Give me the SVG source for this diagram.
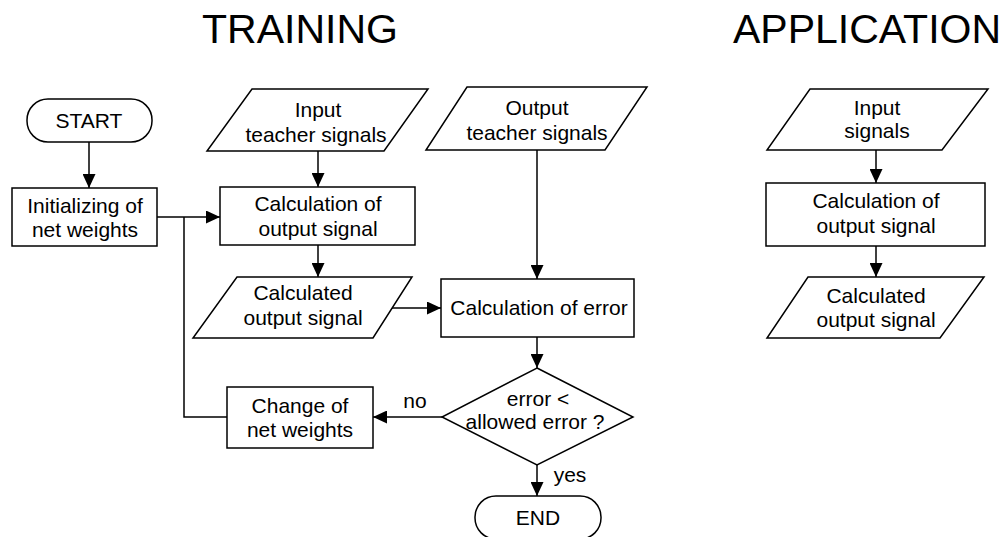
<svg xmlns="http://www.w3.org/2000/svg" width="1007" height="537" viewBox="0 0 1007 537">
<style>
.s{fill:#fff;stroke:#000;stroke-width:1.5}
.t{font-family:"Liberation Sans",Arial,sans-serif;font-size:21px;fill:#000;text-anchor:middle}
.h{font-family:"Liberation Sans",Arial,sans-serif;font-size:41px;fill:#000;text-anchor:middle}
.c{fill:none;stroke:#000;stroke-width:1.5}
</style>
<defs>
<marker id="a" markerUnits="userSpaceOnUse" markerWidth="14" markerHeight="13" refX="14" refY="6.5" orient="auto">
<path d="M0,0 L14,6.5 L0,13 Z" fill="#000"/>
</marker>
</defs>
<rect width="1007" height="537" fill="#fff"/>
<text class="h" x="300" y="43">TRAINING</text>
<text class="h" x="867" y="43">APPLICATION</text>
<g id="connectors">
<path class="c" d="M89,142 V188" marker-end="url(#a)"/>
<path class="c" d="M157,217 H220" marker-end="url(#a)"/>
<path class="c" d="M227,417 H184 V217"/>
<path class="c" d="M318,151 V187" marker-end="url(#a)"/>
<path class="c" d="M318,245 V277" marker-end="url(#a)"/>
<path class="c" d="M391,308 H441" marker-end="url(#a)"/>
<path class="c" d="M537,150 V279" marker-end="url(#a)"/>
<path class="c" d="M537,337 V368" marker-end="url(#a)"/>
<path class="c" d="M442,417 H373" marker-end="url(#a)"/>
<path class="c" d="M537,465 V496" marker-end="url(#a)"/>
<path class="c" d="M876,150 V183" marker-end="url(#a)"/>
<path class="c" d="M876,246 V277" marker-end="url(#a)"/>
<text class="t" x="415" y="408">no</text>
<text class="t" x="570" y="482">yes</text>
</g>
<g id="start">
<rect class="s" x="27" y="99" width="125" height="43" rx="21" ry="21"/>
<text class="t" x="89" y="128">START</text>
</g>
<g id="init">
<rect class="s" x="12" y="188" width="145" height="58"/>
<text class="t" x="85" y="213">Initializing of</text>
<text class="t" x="85" y="237">net weights</text>
</g>
<g id="input-teacher">
<polygon class="s" points="252,89 428,89 384,151 207,151"/>
<text class="t" x="318" y="117">Input</text>
<text class="t" x="316" y="142">teacher signals</text>
</g>
<g id="calc-output">
<rect class="s" x="220" y="187" width="195" height="58"/>
<text class="t" x="318" y="211">Calculation of</text>
<text class="t" x="318" y="236">output signal</text>
</g>
<g id="calculated-output">
<polygon class="s" points="237,277 412,277 373,338 193,338"/>
<text class="t" x="303" y="300">Calculated</text>
<text class="t" x="303" y="325">output signal</text>
</g>
<g id="output-teacher">
<polygon class="s" points="467,87 647,87 605,150 426,150"/>
<text class="t" x="537" y="115">Output</text>
<text class="t" x="537" y="140">teacher signals</text>
</g>
<g id="calc-error">
<rect class="s" x="441" y="279" width="193" height="58"/>
<text class="t" x="539" y="315">Calculation of error</text>
</g>
<g id="decision">
<polygon class="s" points="537,368 633,417 537,465 442,417"/>
<text class="t" x="538" y="406">error &lt;</text>
<text class="t" x="535" y="429">allowed error ?</text>
</g>
<g id="change">
<rect class="s" x="227" y="387" width="146" height="61"/>
<text class="t" x="300" y="413">Change of</text>
<text class="t" x="300" y="437">net weights</text>
</g>
<g id="end">
<rect class="s" x="475" y="496" width="126" height="43" rx="21" ry="21"/>
<text class="t" x="538" y="525">END</text>
</g>
<g id="app-input">
<polygon class="s" points="810,89 988,89 942,150 767,150"/>
<text class="t" x="877" y="115">Input</text>
<text class="t" x="877" y="138">signals</text>
</g>
<g id="app-calc">
<rect class="s" x="766" y="183" width="219" height="63"/>
<text class="t" x="876" y="208">Calculation of</text>
<text class="t" x="876" y="233">output signal</text>
</g>
<g id="app-calculated">
<polygon class="s" points="808,277 984,277 940,338 767,338"/>
<text class="t" x="876" y="303">Calculated</text>
<text class="t" x="876" y="327">output signal</text>
</g>
</svg>
